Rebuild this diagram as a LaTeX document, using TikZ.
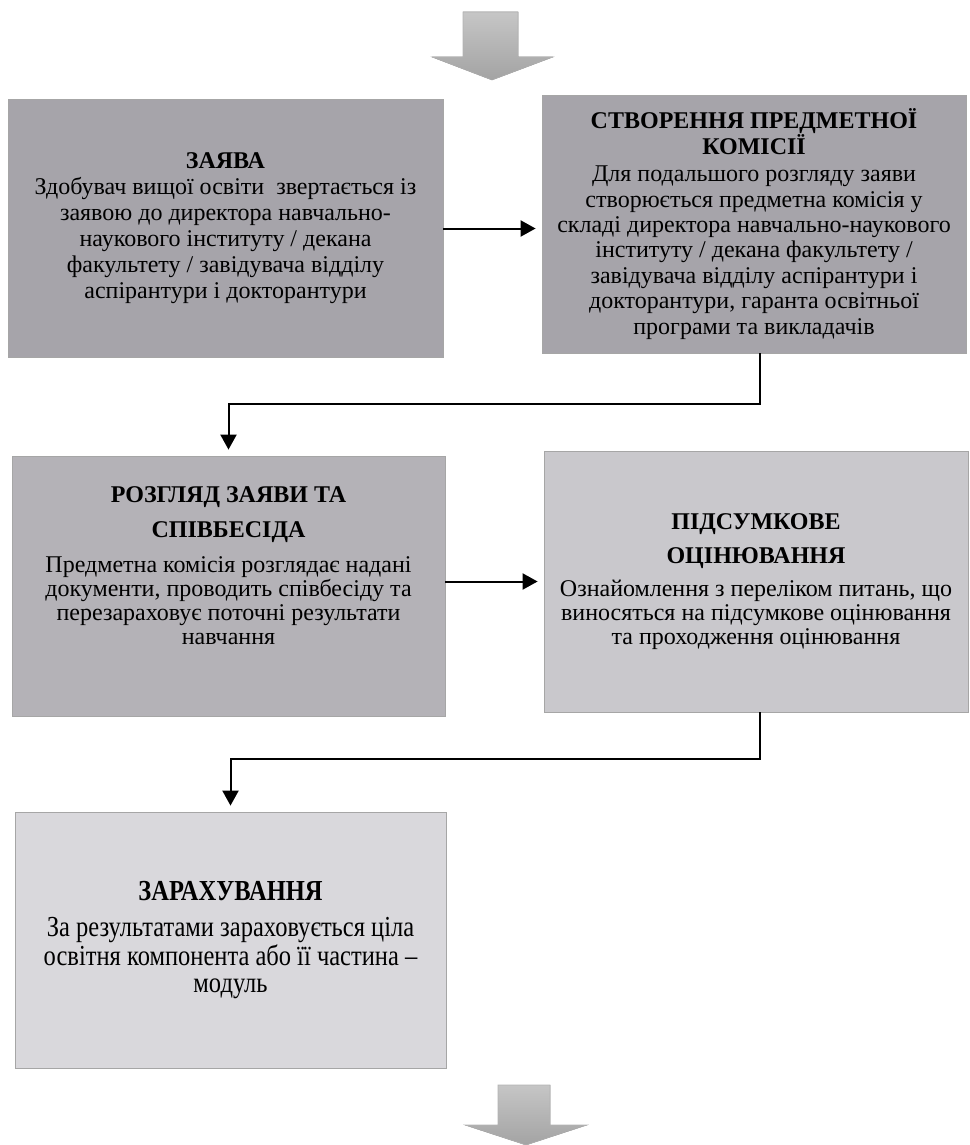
\documentclass[tikz,border=0pt]{standalone}
\usepackage{fontspec}
\setmainfont{Liberation Serif}
\newfontfamily\narrowserif[FakeStretch=0.845]{Liberation Serif}
\usetikzlibrary{arrows.meta}
\definecolor{stagedark}{RGB}{166,164,170}
\definecolor{stagemid}{RGB}{180,178,183}
\definecolor{stagelight}{RGB}{201,200,204}
\definecolor{stagepale}{RGB}{217,216,220}

\begin{document}
\begin{tikzpicture}[x=0.5pt, y=-0.5pt,
		stage/.style={draw=gray!70, line width=0.4pt, align=center, inner sep=0pt,
			minimum width=214pt, minimum height=129pt, font=\fontsize{12}{13}\selectfont},
		flow/.style={line width=1pt, -{Triangle[length=7.5pt,width=8pt]}, shorten >=3pt},
		bigarrow/.style={top color=gray!45, bottom color=gray!72, draw=gray!60, line width=0.3pt}]
	\useasboundingbox (0,0) rectangle (969,1145);

	\fill[bigarrow] (463,12) -- (518,12) -- (518,57) -- (553,57) -- (492,80) -- (432,57) -- (463,57) -- cycle;

	\node[stage, fill=stagedark, minimum width=217.5pt] (claim) at (225.5,228.5)
		{\textbf{ЗАЯВА}\\
		Здобувач вищої освіти\ \ звертається із\\
		заявою до директора навчально-\\
		наукового інституту / декана\\
		факультету / завідувача відділу\\
		аспірантури і докторантури};
	\node[stage, fill=stagedark, minimum width=212pt, font=\fontsize{12}{12.7}\selectfont] (board) at (754,224)
		{\textbf{СТВОРЕННЯ ПРЕДМЕТНОЇ}\\
		\textbf{КОМІСІЇ}\\[1pt]
		Для подальшого розгляду заяви\\
		створюється предметна комісія у\\
		складі директора навчально-наукового\\
		інституту / декана факультету /\\
		завідувача відділу аспірантури і\\
		докторантури, гаранта освітньої\\
		програми та викладачів};
	\node[stage, fill=stagemid, minimum width=216.5pt, minimum height=130pt,
		font=\fontsize{12}{12}\selectfont] (review) at (228.5,586)
		{\textbf{РОЗГЛЯД ЗАЯВИ ТА}\\[5.5pt]
		\textbf{СПІВБЕСІДА}\\[5.5pt]
		Предметна комісія розглядає надані\\
		документи, проводить співбесіду та\\
		перезараховує поточні результати\\
		навчання\\[8pt]};
	\node[stage, fill=stagelight, minimum width=212pt, minimum height=130.5pt,
		font=\fontsize{12}{11.8}\selectfont] (exam) at (756,581.5)
		{\textbf{ПІДСУМКОВЕ}\\[5pt]
		\textbf{ОЦІНЮВАННЯ}\\[5pt]
		Ознайомлення з переліком питань, що\\
		виносяться на підсумкове оцінювання\\
		та проходження оцінювання};
	\node[stage, fill=stagepale, minimum width=215.5pt, minimum height=128pt,
		font=\narrowserif\fontsize{14.5}{13.2}\selectfont] (credit) at (230.5,940)
		{\textbf{ЗАРАХУВАННЯ}\\[5pt]
		За результатами зараховується ціла\\
		освітня компонента або її частина –\\
		модуль};

	\coordinate (bendA) at (760,404);
	\coordinate (bendB) at (760,759);
	\draw[flow] (claim.east) -- (claim.east -| board.west);
	\draw[flow] ([xshift=3pt]board.south) -- (bendA) -| (review.north);
	\draw[flow] (exam.west -| review.east) -- (exam.west);
	\draw[flow] ([xshift=2pt]exam.south) -- (bendB) -| (credit.north);

	\fill[bigarrow] (498,1085) -- (550,1085) -- (550,1125) -- (587,1125) -- (526,1145) -- (465,1125) -- (498,1125) -- cycle;
\end{tikzpicture}
\end{document}
